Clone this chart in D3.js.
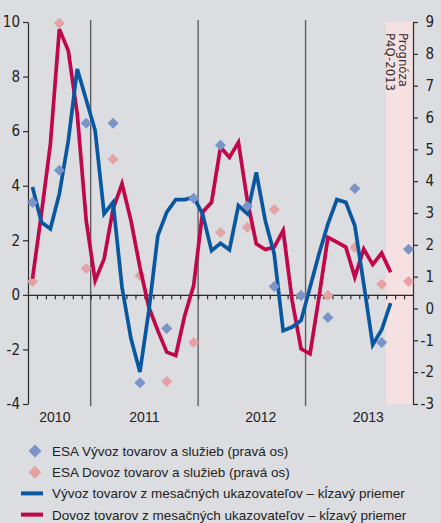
<!DOCTYPE html>
<html>
  <head>
    <meta charset="utf-8">
    <title>Vývoz a dovoz</title>
    <script src="https://cdn.jsdelivr.net/npm/d3@7"></script>
    <style>
      body { margin: 0; background: #dcdde0; }
      #chart { display: block; }
      .axis text { font-family: "Liberation Sans Narrow", "DejaVu Sans Condensed", sans-serif; font-size: 15px; fill: #222; }
      .axis path, .axis line { stroke: #2b2b2b; stroke-width: 1.2; }
      .year { font-family: "Liberation Sans", Arial, sans-serif; font-size: 14px; fill: #222; text-anchor: middle; }
      .legendText { font-family: "Liberation Sans", Arial, sans-serif; font-size: 13.5px; fill: #222; }
      .forecast { font-family: "Liberation Sans Narrow", "DejaVu Sans Condensed", sans-serif; font-size: 13px; fill: #333; }
    </style>
  </head>

  <body>
    <svg id="chart" width="441" height="523"></svg>

    <script>
      // months Jun 2010 - Dec 2013
      months = d3.utcMonths(new Date(Date.UTC(2010, 5, 1)), new Date(Date.UTC(2014, 0, 1)))
        .map(d3.utcFormat("%Y-%m"));

      // monthly indicators, moving average (left axis), Jun 2010 - Oct 2013
      exportMA = [3.95, 2.66, 2.42, 3.70, 5.65, 8.28, 7.15, 6.02, 2.97, 3.39, 0.28, -1.6,
        -2.83, -0.57, 2.17, 3.03, 3.49, 3.49, 3.58, 2.97, 1.62, 1.89, 1.65, 3.27,
        2.97, 4.49, 2.72, 1.50, -1.31, -1.18, -0.94, 0.28, 1.50, 2.60, 3.49, 3.39,
        2.54, 0.40, -1.83, -1.28, -0.30];
      importMA = [0.59, 2.97, 5.53, 9.74, 8.95, 6.63, 2.72, 0.52, 1.32, 3.15, 4.07, 2.72,
        1.01, -0.45, -1.31, -2.10, -2.22, -0.76, 0.34, 3.03, 3.39, 5.41, 5.04, 5.59,
        3.45, 1.87, 1.66, 1.75, 2.36, -0.21, -1.98, -2.16, -0.09, 2.11, 1.93, 1.75,
        0.65, 1.68, 1.11, 1.53, 0.83];

      // ESA quarterly (right axis), placed at the last month of each quarter
      quarters = ["2010-06", "2010-09", "2010-12", "2011-03", "2011-06", "2011-09", "2011-12",
        "2012-03", "2012-06", "2012-09", "2012-12", "2013-03", "2013-06", "2013-09", "2013-12"];
      esaExport = [3.33, 4.34, 5.82, 5.82, -2.33, -0.63, 3.46, 5.13, 3.21, 0.69, 0.41, -0.28, 3.77, -1.07, 1.86];
      esaImport = [0.85, 8.96, 1.26, 4.69, 1.04, -2.29, -1.07, 2.39, 2.55, 3.11, 0.41, 0.41, 1.92, 0.76, 0.85];

      // axes and labels
      leftTicks = [-4, -2, 0, 2, 4, 6, 8, 10];
      rightTicks = [-3, -2, -1, 0, 1, 2, 3, 4, 5, 6, 7, 8, 9];
      years = ["2010", "2011", "2012", "2013"];
      yearLabelAt = ["2010-09", "2011-07", "2012-08", "2013-08"];
      yearStarts = ["2011-01", "2012-01", "2013-01"];
      forecastStart = "2013-10";
      forecastText = ["Prognóza", "P4Q-2013"];
      legendItems = [
        "ESA Vývoz tovarov a služieb (pravá os)",
        "ESA Dovoz tovarov a služieb (pravá os)",
        "Vývoz tovarov z mesačných ukazovateľov – kĺzavý priemer",
        "Dovoz tovarov z mesačných ukazovateľov – kĺzavý priemer"
      ];

      // colours
      blue = "#0a57a1";
      red = "#c1064b";
      blueDiamond = "#7a93c9";
      pinkDiamond = "#e5a2a5";

      svg = d3.select("#chart");

      const plotLeft = 28, plotRight = 413, plotTop = 22, plotBottom = 404;

      x = d3.scaleBand()
        .domain(months)
        .range([plotLeft, plotRight]);
      xi = d3.scaleLinear()
        .domain([0, months.length])
        .range([plotLeft, plotRight]);
      yLeft = d3.scaleLinear()
        .domain([-4, 10])
        .range([plotBottom, plotTop]);
      yRight = d3.scaleLinear()
        .domain([-3, 9])
        .range([plotBottom, plotTop]);

      cx = function(m) { return x(m) + x.bandwidth() / 2; };

      // forecast band
      svg.append("rect")
        .attr("x", x(forecastStart))
        .attr("y", plotTop)
        .attr("width", plotRight - x(forecastStart))
        .attr("height", plotBottom - plotTop)
        .attr("fill", "#f5e1e1");

      svg.selectAll(".forecast")
        .data(forecastText)
      .enter().append("text")
        .classed("forecast", true)
        .attr("transform", function(d, i) { return "translate(" + (x(forecastStart) + 12.5 - i * 12.5) + "," + (plotTop + 11) + ") rotate(90)"; })
        .text(function(d) { return d; });

      // year separators
      svg.selectAll(".yearLine")
        .data(yearStarts)
      .enter().append("line")
        .classed("yearLine", true)
        .attr("x1", function(d) { return x(d); })
        .attr("x2", function(d) { return x(d); })
        .attr("y1", plotTop - 2)
        .attr("y2", plotBottom + 2)
        .attr("stroke", "#5e5e5e")
        .attr("stroke-width", 1.4);

      // zero line with monthly ticks
      svg.append("g")
        .classed("axis", true)
        .attr("transform", "translate(0," + yLeft(0) + ")")
        .call(d3.axisBottom(xi).tickValues(d3.range(1, months.length)).tickSize(4.5).tickSizeOuter(0).tickFormat(""));

      // left axis
      svg.append("g")
        .classed("axis", true)
        .attr("transform", "translate(" + plotLeft + ",0)")
        .call(d3.axisLeft(yLeft).tickValues(leftTicks).tickSize(5).tickPadding(3).tickSizeOuter(0)
          .tickFormat(function(d) { return String(d); }));

      // right axis
      rightAxis = svg.append("g")
        .classed("axis", true)
        .attr("transform", "translate(" + plotRight + ",0)")
        .call(d3.axisRight(yRight).tickValues(rightTicks).tickSize(5).tickSizeOuter(0)
          .tickFormat(function(d) { return String(d); }));
      rightAxis.selectAll("text")
        .attr("x", 21)
        .attr("text-anchor", "end");

      // year labels
      svg.selectAll(".year")
        .data(years)
      .enter().append("text")
        .classed("year", true)
        .attr("x", function(d, i) { return x(yearLabelAt[i]); })
        .attr("y", plotBottom + 18)
        .text(function(d) { return d; });

      diamond = function(r) { return "M0," + (-r) + "L" + r + ",0L0," + r + "L" + (-r) + ",0Z"; };

      // pink diamonds
      svg.selectAll(".esaImport")
        .data(esaImport)
      .enter().append("path")
        .classed("esaImport", true)
        .attr("d", diamond(5.5))
        .attr("transform", function(d, i) { return "translate(" + cx(quarters[i]) + "," + yRight(d) + ")"; })
        .attr("fill", pinkDiamond);

      lineLeft = d3.line()
        .x(function(d, i) { return cx(months[i]); })
        .y(function(d) { return yLeft(d); });

      svg.append("path")
        .datum(importMA)
        .attr("d", lineLeft)
        .attr("fill", "none")
        .attr("stroke", red)
        .attr("stroke-width", 3.7);

      svg.append("path")
        .datum(exportMA)
        .attr("d", lineLeft)
        .attr("fill", "none")
        .attr("stroke", blue)
        .attr("stroke-width", 3.7);

      // blue diamonds
      svg.selectAll(".esaExport")
        .data(esaExport)
      .enter().append("path")
        .classed("esaExport", true)
        .attr("d", diamond(5.5))
        .attr("transform", function(d, i) { return "translate(" + cx(quarters[i]) + "," + yRight(d) + ")"; })
        .attr("fill", blueDiamond);

      // legend
      legend = svg.append("g")
        .attr("transform", "translate(0,451)");

      legendRows = legend.selectAll("g")
        .data(legendItems)
      .enter().append("g")
        .attr("transform", function(d, i) { return "translate(0," + (i * 21.2) + ")"; });

      legendRows.filter(function(d, i) { return i < 2; })
        .append("path")
          .attr("d", diamond(6.5))
          .attr("transform", "translate(35,0)")
          .attr("fill", function(d, i) { return i == 0 ? blueDiamond : pinkDiamond; });

      legendRows.filter(function(d, i) { return i >= 2; })
        .append("line")
          .attr("x1", 21)
          .attr("x2", 43)
          .attr("stroke-width", 4)
          .attr("stroke", function(d, i) { return i == 0 ? blue : red; });

      legendRows.append("text")
        .classed("legendText", true)
        .attr("x", 52)
        .attr("y", 5)
        .text(function(d) { return d; });
    </script>
  </body>
</html>
